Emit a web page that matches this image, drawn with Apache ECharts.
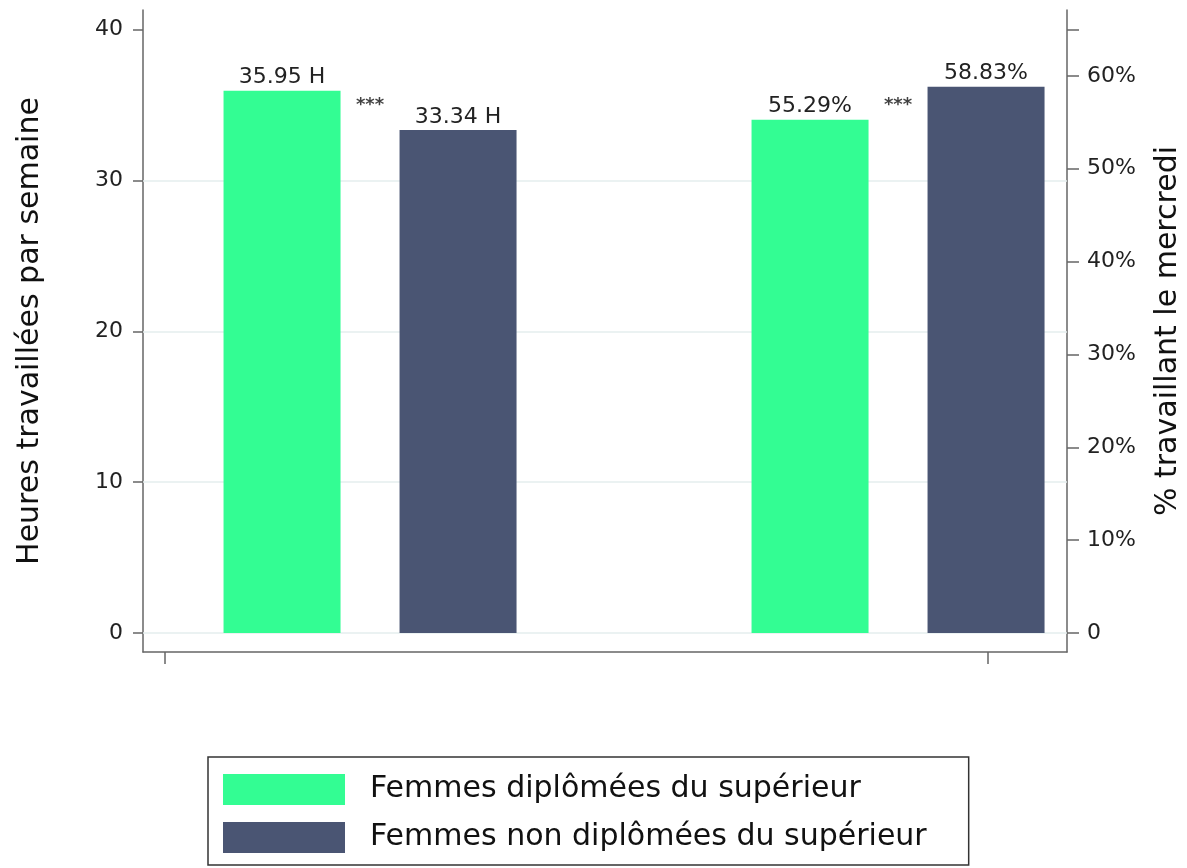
<!DOCTYPE html>
<html><head><meta charset="utf-8">
<script src="https://cdn.jsdelivr.net/npm/echarts@6/dist/echarts.min.js"></script>
<style>html,body{margin:0;padding:0;background:#fff}#chart{width:1187px;height:868px}</style>
</head><body><div id="chart"></div>
<script>
// ---- data ----
const groups = ['Heures travaillées par semaine', '% travaillant le mercredi'];
const seriesNames = ['Femmes diplômées du supérieur', 'Femmes non diplômées du supérieur'];
const hoursValues = [35.95, 33.34];
const wednesdayValues = [55.29, 58.83];
const significance = ['***', '***'];
const leftTicks = [0, 10, 20, 30, 40];
const rightLabelTicks = [0, 10, 20, 30, 40, 50, 60];
const rightTickMarks = [0, 10, 20, 30, 40, 50, 60, 65];
const xTickMarks = [0.335, 5.01];

// ---- style / layout ----
const FONT = 'DejaVu Sans';
const colors = ['#33fd93', '#4a5573'];
const axisColor = '#666';
const barX = (g, s) => 1 + 3 * g + s;
const starX = g => 1.5 + 3 * g;
const starLevel = 35.0;

const chart = echarts.init(document.getElementById('chart'));
const series = [];
series.push({
  type: 'line', yAxisIndex: 0, data: [], silent: true, z: 1,
  markLine: {
    silent: true, symbol: 'none', animation: false, z: 1,
    label: { show: false },
    lineStyle: { color: '#e4eeee', width: 1.5, type: 'solid' },
    data: leftTicks.filter(v => v < 40).map(v => ({ yAxis: v }))
  }
});
seriesNames.forEach((name, s) => {
  series.push({
    type: 'bar', name, xAxisIndex: 0, yAxisIndex: 0, barWidth: 117, barGap: '-100%', z: 2,
    itemStyle: { color: colors[s] },
    data: [[barX(0, s), hoursValues[s]]],
    label: { show: true, position: 'top', distance: 2, fontSize: 22, color: '#222', fontFamily: FONT,
      formatter: p => p.value[1].toFixed(2) + ' H' }
  });
  series.push({
    type: 'bar', name, xAxisIndex: 0, yAxisIndex: 1, barWidth: 117, barGap: '-100%', z: 2,
    itemStyle: { color: colors[s] },
    data: [[barX(1, s), wednesdayValues[s]]],
    label: { show: true, position: 'top', distance: 2, fontSize: 22, color: '#222', fontFamily: FONT,
      formatter: p => p.value[1].toFixed(2) + '%' }
  });
});
series.push({
  type: 'scatter', yAxisIndex: 0, symbol: 'circle', symbolSize: 2, z: 3, silent: true,
  itemStyle: { color: 'rgba(0,0,0,0)' },
  data: significance.map((t, g) => ({ value: [starX(g), starLevel], label: { formatter: t } })),
  label: { show: true, position: 'inside', fontSize: 18, fontWeight: 'bold', color: '#111', fontFamily: FONT }
});

chart.setOption({
  animation: false,
  textStyle: { fontFamily: FONT },
  grid: { left: 143, right: 120, top: 10, bottom: 216, outerBoundsMode: 'none', containLabel: false },
  xAxis: {
    type: 'value', min: 0.21, max: 5.46,
    axisLine: { show: true, onZero: false, lineStyle: { color: axisColor, width: 1.5 } },
    axisTick: { show: true, customValues: xTickMarks, length: 12, lineStyle: { color: axisColor, width: 1.5 } },
    axisLabel: { show: false }, splitLine: { show: false }
  },
  yAxis: [{
    type: 'value', position: 'left', min: -1.26, max: 41.3,
    name: groups[0], nameLocation: 'middle', nameGap: 98, nameRotate: 90,
    nameTextStyle: { fontSize: 30, color: '#111', fontFamily: FONT },
    axisLine: { show: true, onZero: false, lineStyle: { color: axisColor, width: 1.5 } },
    axisTick: { show: true, customValues: leftTicks, length: 10, lineStyle: { color: axisColor, width: 1.5 } },
    axisLabel: { customValues: leftTicks, margin: 20, fontSize: 22, color: '#222', fontFamily: FONT },
    splitLine: { show: false }
  }, {
    type: 'value', position: 'right', min: -2.05, max: 67.1,
    name: groups[1], nameLocation: 'middle', nameGap: 86, nameRotate: 90,
    nameTextStyle: { fontSize: 30, color: '#111', fontFamily: FONT },
    axisLine: { show: true, onZero: false, lineStyle: { color: axisColor, width: 1.5 } },
    axisTick: { show: true, customValues: rightTickMarks, length: 12, lineStyle: { color: axisColor, width: 1.5 } },
    axisLabel: { customValues: rightLabelTicks, margin: 20, fontSize: 22, color: '#222', fontFamily: FONT,
      formatter: v => v === 0 ? '0' : v + '%' },
    splitLine: { show: false }
  }],
  legend: {
    orient: 'vertical', left: 208, top: 757, data: seriesNames, icon: 'rect',
    itemWidth: 122, itemHeight: 31, itemGap: 17, padding: [17, 42, 12, 15],
    borderColor: '#333', borderWidth: 1.5, selectedMode: false,
    textStyle: { fontSize: 30, color: '#111', fontFamily: FONT, padding: [0, 0, 0, 20] }
  },
  series
});
</script></body></html>
